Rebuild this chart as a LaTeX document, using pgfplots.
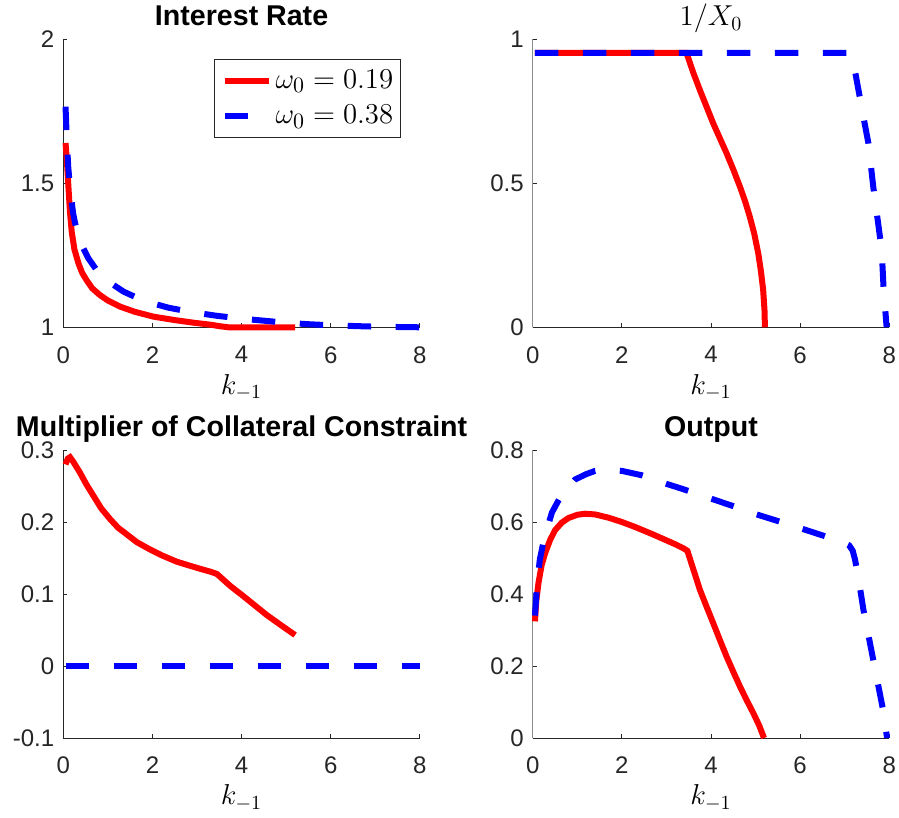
\documentclass[border=0pt]{standalone}
\usepackage{fontspec}
\setmainfont{Liberation Sans}
\usepackage{pgfplots}
\pgfplotsset{compat=1.18}
\definecolor{axgray}{HTML}{262626}
\definecolor{ylgray}{HTML}{8C8C8C}

\pgfplotsset{
  panel/.style={
    scale only axis, width=178.3pt, height=144pt,
    axis lines=left, axis line style={-, draw=axgray, line width=0.4pt},
    tick align=inside, major tick length=2pt,
    tick style={axgray, line width=0.4pt},
    xmin=0, xmax=8, xtick={0,2,...,8}, enlargelimits=false, clip=false,
    /pgf/number format/assume math mode=true,
    ticklabel style={font=\fontsize{12}{14}\selectfont, text=axgray},
    xticklabel style={yshift=-6pt},
    yticklabel style={xshift=-1pt},
    xlabel={$k_{-1}$},
    xlabel style={at={(axis description cs:0.5,0)}, anchor=base,
      yshift=-33.5pt, font=\fontsize{14}{16}\selectfont},
    title style={at={(axis description cs:0.5,1)}, anchor=base,
      yshift=0.7pt, font=\fontsize{14.3}{16}\selectfont\bfseries},
  },
  redl/.style={color=red, line width=3pt},
  bluel/.style={color=blue, line width=3pt, dash pattern=on 11.7pt off 12.3pt},
}

\begin{document}
\begin{tikzpicture}
\useasboundingbox (0,0) rectangle (449.5pt,409pt);

% interest rate
\begin{axis}[panel, at={(31.65pt,245.35pt)}, anchor=south west,
  ymin=1, ymax=2, ytick={1,1.5,2}, title={Interest Rate},
  legend style={at={(axis description cs:1,1)}, anchor=north east,
    xshift=-9.65pt, yshift=-9.85pt, draw=axgray, line width=0.4pt,
    inner xsep=3.5pt, inner ysep=5.2pt, font=\fontsize{15}{18}\selectfont,
    nodes={inner sep=0pt}, column sep=2pt, row sep=7pt},
  legend cell align=left,
  legend image code/.code={\draw[#1] (0pt,0pt) -- (22pt,0pt);},
]
\addplot[redl] coordinates {
 (0.05,1.64) (0.08,1.58) (0.11,1.50) (0.15,1.40) (0.19,1.33) (0.25,1.27)
 (0.34,1.222) (0.42,1.19) (0.52,1.164) (0.65,1.135) (0.82,1.112) (1.0,1.093)
 (1.27,1.072) (1.6,1.054) (2.02,1.037) (2.5,1.025) (2.92,1.016) (3.3,1.009)
 (3.5,1.004) (3.7,1.0) (5.2,1.0)};
\addplot[bluel] coordinates {
 (0.05,1.766) (0.08,1.65) (0.11,1.558) (0.16,1.47) (0.22,1.396) (0.3,1.335)
 (0.4,1.29) (0.56,1.24) (0.75,1.198) (1.0,1.16) (1.35,1.124) (1.8,1.092)
 (2.36,1.068) (2.9,1.052) (3.44,1.040) (4.0,1.030) (4.49,1.023) (5.0,1.016)
 (5.46,1.011) (6.0,1.007) (6.8,1.003) (7.5,1.001) (8.0,1.0)};
\legend{$\omega_0 = 0.19$, $\omega_0 = 0.38$}
\end{axis}

% 1/X0
\begin{axis}[panel, at={(266.35pt,245.35pt)}, anchor=south west,
  ymin=0, ymax=1, ytick={0,0.5,1}, title={$1/X_0$},
  y axis line style={draw=ylgray},
]
\addplot[redl] coordinates {
 (0.05,0.953) (3.45,0.953) (3.6,0.885) (3.75,0.824) (4.05,0.708) (4.2,0.656)
 (4.35,0.604) (4.5,0.548) (4.65,0.488) (4.77,0.435) (4.87,0.384) (4.97,0.325)
 (5.06,0.257) (5.12,0.195) (5.17,0.130) (5.2,0.06) (5.21,0.0)};
\addplot[bluel] coordinates {
 (0.05,0.953) (7.1,0.953) (7.18,0.93) (7.23,0.89) (7.42,0.73) (7.53,0.64)
 (7.64,0.488) (7.83,0.268) (7.87,0.14) (7.94,0.0)};
\end{axis}

% multiplier
\begin{axis}[panel, at={(31.65pt,40pt)}, anchor=south west,
  ymin=-0.1, ymax=0.3, ytick={-0.1,0,0.1,0.2,0.3},
  title={Multiplier of Collateral Constraint},
]
\addplot[redl] coordinates {
 (0.05,0.280) (0.1,0.288) (0.15,0.290) (0.22,0.284) (0.37,0.269) (0.52,0.252)
 (0.68,0.236) (0.85,0.219) (1.05,0.204) (1.23,0.192) (1.42,0.183) (1.65,0.172)
 (1.94,0.162) (2.2,0.154) (2.54,0.145) (2.8,0.140) (3.07,0.135) (3.3,0.131)
 (3.44,0.128) (3.48,0.126) (3.75,0.111) (4.04,0.097) (4.3,0.084) (4.56,0.071)
 (4.9,0.056) (5.2,0.043)};
\addplot[bluel] coordinates {(0.05,0) (8,0)};
\end{axis}

% output
\begin{axis}[panel, at={(266.35pt,40pt)}, anchor=south west,
  ymin=0, ymax=0.8, ytick={0,0.2,...,0.8}, title={Output},
  y axis line style={draw=ylgray},
]
\addplot[redl] coordinates {
 (0.05,0.324) (0.08,0.38) (0.13,0.431) (0.2,0.48) (0.28,0.514) (0.39,0.55)
 (0.5,0.577) (0.65,0.598) (0.8,0.611) (1.0,0.620) (1.17,0.623) (1.4,0.621)
 (1.7,0.612) (2.0,0.600) (2.3,0.586) (2.67,0.567) (3.0,0.549) (3.2,0.538)
 (3.38,0.527) (3.47,0.520) (3.6,0.47) (3.75,0.412) (3.9,0.365) (4.05,0.319)
 (4.2,0.272) (4.35,0.226) (4.5,0.184) (4.65,0.143) (4.8,0.105) (4.95,0.069)
 (5.08,0.035) (5.19,0.0)};
\addplot[bluel] coordinates {
 (0.05,0.34) (0.1,0.43) (0.16,0.496) (0.25,0.55) (0.43,0.626) (0.6,0.665)
 (0.8,0.695) (0.95,0.718) (1.2,0.733) (1.4,0.742) (1.7,0.745) (2.0,0.742)
 (2.44,0.730) (3.0,0.706) (3.38,0.691) (4.0,0.665) (4.5,0.644) (5.0,0.622)
 (5.62,0.598) (6.0,0.583) (6.52,0.562) (7.0,0.541) (7.1,0.535) (7.18,0.52)
 (7.23,0.496) (7.3,0.45) (7.42,0.356) (7.64,0.217) (7.86,0.078) (7.95,0.0)};
\end{axis}
\end{tikzpicture}
\end{document}
